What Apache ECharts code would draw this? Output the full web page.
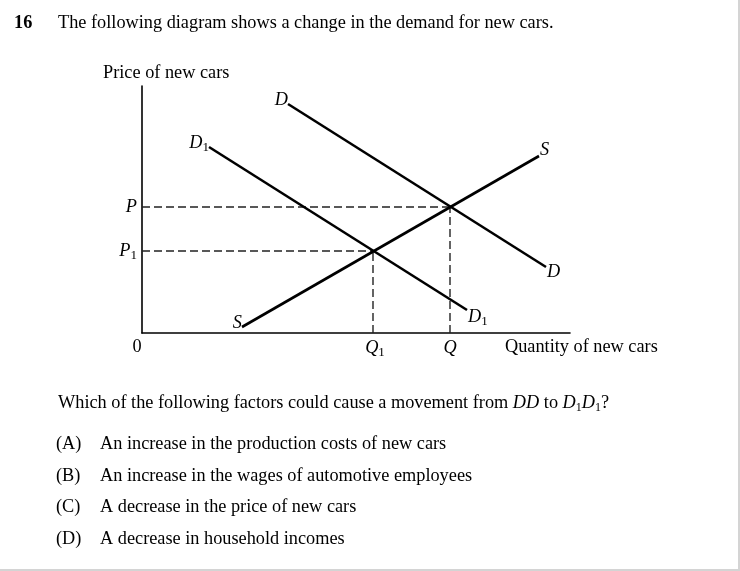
<!DOCTYPE html>
<html>
<head>
<meta charset="utf-8">
<script src="https://cdn.jsdelivr.net/npm/echarts@6/dist/echarts.min.js"></script>
<style>
html,body{margin:0;padding:0;background:#fff;}
#c{width:740px;height:571px;}
</style>
</head>
<body>
<div id="c"></div>
<script>
// ---- data (axis units = quantity / price) ----
const curveD  = [[146, 229], [404, 66]];
const curveD1 = [[67, 186], [325, 23]];
const curveS  = [[100, 6], [397, 177]];
const priceValues = [126, 82];          // P, P1
const priceLabels = [['P', ''], ['P', '1']];
const qtyValues = [231, 308];           // Q1, Q
const qtyLabels = [['Q', '1'], ['Q', '']];
const xMax = 428, yMax = 247;
// equilibrium pairs for dashed guides: [quantity, price]
const equilibria = [[308, 126], [231, 82]];

const questionNo = '16';
const titleText = 'The following diagram shows a change in the demand for new cars.';
const yAxisName = 'Price of new cars';
const xAxisName = 'Quantity of new cars';
const optionKeys = ['(A)', '(B)', '(C)', '(D)'];
const optionTexts = [
  'An increase in the production costs of new cars',
  'An increase in the wages of automotive employees',
  'A decrease in the price of new cars',
  'A decrease in household incomes'
];

// ---- chart ----
const FONT = '"Liberation Serif", "Times New Roman", serif';
const FS = 18.3;
const chart = echarts.init(document.getElementById('c'), null, {renderer: 'canvas'});

const solid = (name, data) => ({
  type: 'line', name, data, symbol: 'none', animation: false, silent: true,
  lineStyle: {color: '#000', width: 2.6}, z: 5
});
const dashedSeries = [];
equilibria.forEach(([q, p]) => {
  dashedSeries.push({
    type: 'line', data: [[0, p], [q, p]], symbol: 'none', animation: false, silent: true,
    lineStyle: {color: '#222', width: 1.4, type: [8, 4]}, z: 3
  });
  dashedSeries.push({
    type: 'line', data: [[q, 0], [q, p]], symbol: 'none', animation: false, silent: true,
    lineStyle: {color: '#222', width: 1.4, type: [8, 4]}, z: 3
  });
});

chart.setOption({
  backgroundColor: '#fff',
  animation: false,
  grid: {left: 142, top: 86, width: xMax, height: yMax, containLabel: false},
  xAxis: {
    type: 'value', min: 0, max: xMax,
    axisLine: {show: true, lineStyle: {color: '#000', width: 1.6}},
    axisTick: {show: false}, axisLabel: {show: false}, splitLine: {show: false}
  },
  yAxis: {
    type: 'value', min: 0, max: yMax,
    axisLine: {show: true, lineStyle: {color: '#000', width: 1.6}},
    axisTick: {show: false}, axisLabel: {show: false}, splitLine: {show: false}
  },
  series: [
    ...dashedSeries,
    solid('D', curveD),
    solid('D1', curveD1),
    solid('S', curveS)
  ]
});

const rich = {
  n: {fontFamily: FONT, fontSize: FS, fill: '#000', lineHeight: 22},
  i: {fontFamily: FONT, fontSize: FS, fontStyle: 'italic', fill: '#000', lineHeight: 22},
  s: {fontFamily: FONT, fontSize: 13, fill: '#000', verticalAlign: 'bottom', lineHeight: 13},
  q: {fontFamily: FONT, fontSize: 12, fill: '#000', verticalAlign: 'bottom', lineHeight: 15},
  b: {fontFamily: FONT, fontSize: FS, fontWeight: 'bold', fill: '#000', lineHeight: 22}
};
const mathLabel = ([m, sub]) => '{i|' + m + '}' + (sub ? '{s|' + sub + '}' : '');

function txt(x, y, text, align) {
  return {
    type: 'text', x, y, silent: true,
    style: {text, rich, align: align || 'left', verticalAlign: 'middle', fontFamily: FONT, fontSize: FS, fill: '#000'}
  };
}
const px = (pt) => chart.convertToPixel({gridIndex: 0}, pt);

const g = [];
// page text
g.push(txt(14, 23, '{b|' + questionNo + '}'));
g.push(txt(58, 23, '{n|' + titleText + '}'));
g.push(txt(103, 73, '{n|' + yAxisName + '}'));
const xEnd = px([xMax, 0]);
g.push(txt(xEnd[0] - 65, xEnd[1] + 14, '{n|' + xAxisName + '}'));
// origin
const o = px([0, 0]);
g.push(txt(o[0] - 5, o[1] + 14, '{n|0}', 'center'));
// price labels
priceValues.forEach((v, k) => {
  const p = px([0, v]);
  g.push(txt(p[0] - 5, p[1], mathLabel(priceLabels[k]), 'right'));
});
// quantity labels
qtyValues.forEach((v, k) => {
  const p = px([v, 0]);
  g.push(txt(p[0] + (qtyLabels[k][1] ? 2 : 0), p[1] + 15, mathLabel(qtyLabels[k]), 'center'));
});
// curve labels
const curveLabel = (pt, lab, dx, dy, align) => {
  const p = px(pt);
  g.push(txt(p[0] + dx, p[1] + dy, mathLabel(lab), align));
};
curveLabel(curveD[0], ['D', ''], 0, -4, 'right');
curveLabel(curveD[1], ['D', ''], 1, 5, 'left');
curveLabel(curveD1[0], ['D', '1'], 0, -4, 'right');
curveLabel(curveD1[1], ['D', '1'], 1, 7, 'left');
curveLabel(curveS[0], ['S', ''], 0, -4, 'right');
curveLabel(curveS[1], ['S', ''], 1, -6, 'left');

// question
g.push(txt(58, 403, '{n|Which of the following factors could cause a movement from }{i|DD}{n| to }{i|D}{q|1}{i|D}{q|1}{n|?}'));
const optY = [444, 476, 507, 539];
optionKeys.forEach((k, j) => {
  g.push(txt(56, optY[j], '{n|' + k + '}'));
  g.push(txt(100, optY[j], '{n|' + optionTexts[j] + '}'));
});
// page border (right and bottom)
g.push({type: 'rect', shape: {x: 738, y: 0, width: 2, height: 571}, style: {fill: '#d4d4d4'}, silent: true});
g.push({type: 'rect', shape: {x: 0, y: 569, width: 740, height: 2}, style: {fill: '#d4d4d4'}, silent: true});

chart.setOption({graphic: g});
</script>
</body>
</html>
